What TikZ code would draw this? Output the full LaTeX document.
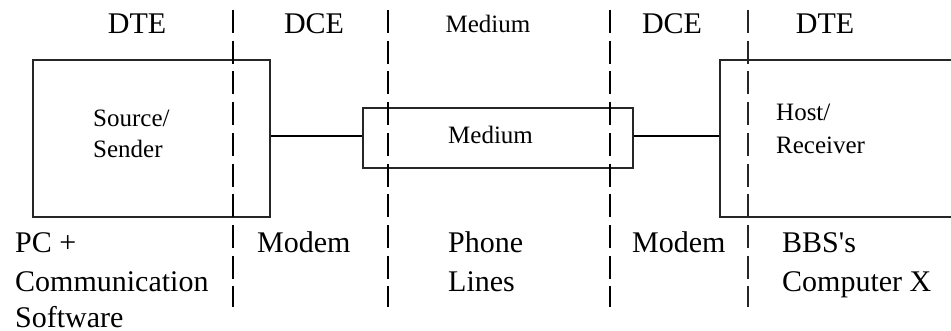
\documentclass[tikz,border=0pt]{standalone}
\usepackage{fontspec}
\setmainfont{Liberation Serif}
\begin{document}
\begin{tikzpicture}[x=1pt,y=-1pt,
  box/.style={draw=black!85,line width=1.4pt,inner sep=0pt,rectangle},
  conn/.style={draw=black,line width=2.4pt},
  septhick/.style={draw=black,line width=2.6pt,dash pattern=on 23pt off 7.7pt},
  septhin/.style={draw=black!85,line width=1.4pt,dash pattern=on 23pt off 7.7pt},
  big/.style={inner sep=0pt,anchor=base west,font=\fontsize{30}{36}\selectfont},
  bigc/.style={inner sep=0pt,anchor=base,font=\fontsize{30}{36}\selectfont},
  small/.style={inner sep=0pt,anchor=base west,font=\fontsize{25}{30}\selectfont},
  smallc/.style={inner sep=0pt,anchor=base,font=\fontsize{25}{30}\selectfont}]
\useasboundingbox (0,0) rectangle (951,330);
\clip (0,0) rectangle (951,330);
\fill[white] (0,0) rectangle (951,330);
% boxes
\node[box,minimum width=237pt,minimum height=157pt] (src) at (151.5,138.5) {};
\node[box,minimum width=270pt,minimum height=60pt] (med) at (498,138) {};
\node[box,minimum width=260pt,minimum height=157pt] (host) at (850,138.5) {};
% connectors
\draw[conn] ([yshift=2.5pt]src.east) -- ([yshift=2pt]med.west);
\draw[conn] ([yshift=2pt]med.east) -- ([yshift=2.5pt]host.west);
% dashed separators
\coordinate (d1t) at (233,10); \coordinate (d1b) at (233,307);
\coordinate (d2t) at (388,10); \coordinate (d2b) at (388,307);
\coordinate (d3t) at (610,10); \coordinate (d3b) at (610,307);
\coordinate (d4t) at (748,10); \coordinate (d4b) at (748,307);
\draw[septhick] (d1t) -- (d1b);
\draw[septhick] (d2t) -- (d2b);
\draw[septhick] (d3t) -- (d3b);
\draw[septhin] (d4t) -- (d4b);
% header labels
\node[bigc] (h1) at (137,33) {DTE};
\node[bigc] (h2) at (314,33) {DCE};
\node[smallc] (h3) at (488,32) {Medium};
\node[bigc] (h4) at (672,33) {DCE};
\node[bigc] (h5) at (825,33) {DTE};
% box labels
\node[small] (s1) at (93,126) {Source/};
\node[small] (s2) at (93,157) {Sender};
\node[small] (m1) at (448,143) {Medium};
\node[small] (r1) at (776,120) {Host/};
\node[small] (r2) at (776,153) {Receiver};
% bottom labels
\node[big] (b1) at (15,252) {PC +};
\node[big] (b2) at (15,291) {Communication};
\node[big] (b3) at (15,327) {Software};
\node[big] (b4) at (257,252) {Modem};
\node[big] (b5) at (448,252) {Phone};
\node[big] (b6) at (448,291) {Lines};
\node[big] (b7) at (632,252) {Modem};
\node[big] (b8) at (782,252) {BBS\textquotesingle s};
\node[big] (b9) at (782,291) {Computer X};
\end{tikzpicture}
\end{document}
